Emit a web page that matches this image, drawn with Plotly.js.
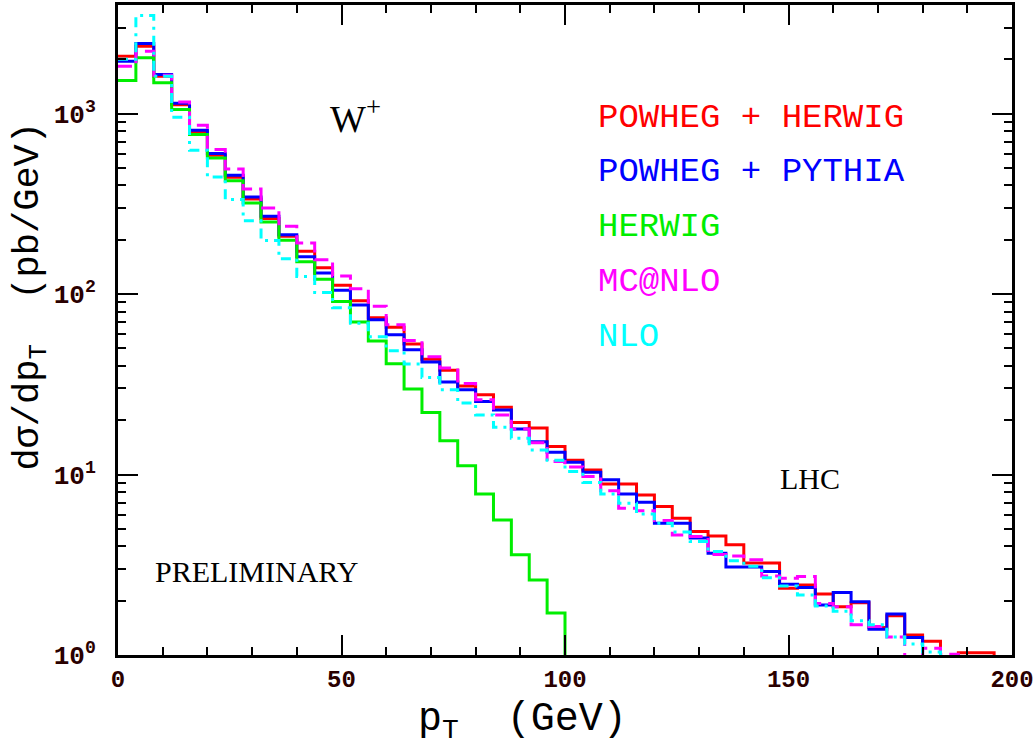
<!DOCTYPE html>
<html>
<head>
<meta charset="utf-8">
<script src="https://cdn.plot.ly/plotly-3.0.1.min.js"></script>
<style>html,body{margin:0;padding:0;background:#fff;}#chart{width:1035px;height:747px;}</style>
</head>
<body>
<div id="chart"></div>
<script>
// Bin width 4 GeV, bins start at 0 GeV
const binWidth = 4;
// dσ/dpT (pb/GeV) per bin
const powhegHerwig = [2080, 2365, 1612, 1120, 793, 588, 444, 337, 262, 209,
  173, 140, 112, 92, 74, 65.4, 52.9, 43.6, 37.8, 31,
  27.7, 23.6, 19.4, 18.1, 14.3, 12.0, 10.6, 8.85, 8.85, 7.7,
  6.65, 5.73, 4.83, 4.57, 4.08, 3.23, 3.23, 2.34, 2.44, 2.18,
  1.85, 1.95, 1.42, 1.65, 1.29, 1.19, 0.9, 1.03, 1.03, 0.5];
const powhegPythia = [1950, 2447, 1648, 1140, 809, 601, 455, 345, 270, 213,
  161, 131, 105, 87, 72, 59.6, 49.2, 42, 32.6, 29.5,
  25.4, 22.8, 17.9, 15.2, 13.3, 11.7, 10.3, 9.35, 7.8, 7.03,
  5.37, 5.37, 4.45, 3.66, 3.07, 3.07, 2.9, 2.47, 2.37, 1.89,
  2.22, 1.97, 1.39, 1.69, 1.25, 0.5];
const herwig = [1527, 2040, 1483, 1055, 766, 568, 425, 320, 251, 199,
  151, 121, 91, 70, 55, 41.1, 29.8, 22.1, 15.4, 11.2,
  7.8, 5.6, 3.59, 2.6, 1.71, 0.5];
const mcatnlo = [1830, 2218, 1630, 1162, 862, 632, 494, 382, 300, 238,
  192, 155, 126, 107, 85.5, 67.6, 55.4, 45, 38.9, 32,
  26, 21.4, 17.9, 15.0, 11.8, 11.0, 9.75, 8.12, 6.51, 6.3,
  5.56, 4.63, 4.53, 3.6, 3.54, 3.37, 2.74, 2.66, 2.72, 1.93,
  1.85, 1.47, 1.44, 1.26, 0.5, 1.09, 1.01, 0.5];
const nlo = [2000, 3500, 1610, 955, 627, 446, 334, 255, 198, 157,
  125, 102, 84, 69, 58, 48.5, 41, 34.5, 29.5, 24.9,
  21.4, 18.3, 15.9, 13.7, 12.0, 10.4, 9.03, 7.8, 6.94, 6.05,
  5.37, 4.8, 4.25, 3.74, 3.33, 3.1, 2.68, 2.41, 2.15, 1.87,
  1.75, 1.55, 1.47, 1.26, 1.15, 1.04, 0.5];

const seriesNames = ['POWHEG + HERWIG', 'POWHEG + PYTHIA', 'HERWIG', 'MC@NLO', 'NLO'];
const seriesColors = ['#ff0000', '#0000ff', '#00ee00', '#ff00ff', '#00ffff'];
const yTickVals = [1, 10, 100, 1000];
const yTickText = ['10<sup>0</sup>', '10<sup>1</sup>', '10<sup>2</sup>', '10<sup>3</sup>'];
const xTickVals = [0, 50, 100, 150, 200];

function stepTrace(vals, name, color, dash) {
  const x = [], y = [];
  for (let i = 0; i < vals.length; i++) { x.push(i * binWidth); y.push(vals[i]); }
  x.push(vals.length * binWidth); y.push(vals[vals.length - 1]);
  return {x: x, y: y, name: name, type: 'scatter', mode: 'lines',
    line: {shape: 'hv', color: color, width: 3, dash: dash}, showlegend: false, hoverinfo: 'skip'};
}

const data = [
  stepTrace(powhegHerwig, seriesNames[0], seriesColors[0], 'solid'),
  stepTrace(powhegPythia, seriesNames[1], seriesColors[1], 'solid'),
  stepTrace(herwig, seriesNames[2], seriesColors[2], 'solid'),
  stepTrace(mcatnlo, seriesNames[3], seriesColors[3], '14px,7px'),
  stepTrace(nlo, seriesNames[4], seriesColors[4], '10px,6px,3px,6px')
];

const minorLog = [];
for (let d = 0; d < 4; d++) for (let k = 2; k <= 9; k++) minorLog.push(k * Math.pow(10, d));

const mono = '"Liberation Mono", "DejaVu Sans Mono", monospace';
const serif = '"Liberation Serif", "DejaVu Serif", serif';
const tickCol = '#2a0000';

const legendY = [0.826, 0.743, 0.658, 0.574, 0.489];
const annotations = seriesNames.map((n, i) => ({
  text: n, xref: 'paper', yref: 'paper', x: 0.535, y: legendY[i], xanchor: 'left', yanchor: 'middle',
  showarrow: false, font: {family: mono, size: 34, color: seriesColors[i]}
}));
annotations.push(
  {text: 'W<sup>+</sup>', xref: 'paper', yref: 'paper', x: 0.235, y: 0.83, xanchor: 'left', yanchor: 'middle', showarrow: false, font: {family: serif, size: 38, color: '#000'}},
  {text: 'LHC', xref: 'paper', yref: 'paper', x: 0.738, y: 0.272, xanchor: 'left', yanchor: 'middle', showarrow: false, font: {family: serif, size: 30, color: '#000'}},
  {text: 'PRELIMINARY', xref: 'paper', yref: 'paper', x: 0.039, y: 0.128, xanchor: 'left', yanchor: 'middle', showarrow: false, font: {family: serif, size: 30, color: '#000'}},
  {text: 'p<sub>T</sub>  (GeV)', xref: 'paper', yref: 'paper', x: 0.452, y: -0.103, xanchor: 'center', yanchor: 'middle', showarrow: false, font: {family: mono, size: 40, color: '#000'}},
  {text: 'dσ/dp<sub>T</sub>  (pb/GeV)', xref: 'paper', yref: 'paper', x: -0.098, y: 0.552, xanchor: 'center', yanchor: 'middle', textangle: -90, showarrow: false, font: {family: mono, size: 37, color: '#000'}}
);

const layout = {
  width: 1035, height: 747,
  margin: {l: 118, r: 23, t: 5, b: 92},
  paper_bgcolor: '#fff', plot_bgcolor: '#fff',
  showlegend: false,
  xaxis: {
    range: [0, 200], showgrid: false, zeroline: false,
    showline: true, linecolor: '#000', linewidth: 3, mirror: 'allticks',
    ticks: 'inside', ticklen: 20, tickwidth: 2, tickcolor: '#000',
    tickmode: 'array', tickvals: xTickVals,
    tickfont: {family: mono, size: 24, color: tickCol, weight: 'bold'},
    ticklabelstandoff: 0,
    minor: {dtick: 10, ticklen: 8, tickwidth: 2, tickcolor: '#000', ticks: 'inside', showgrid: false}
  },
  yaxis: {
    type: 'log', range: [0, Math.log10(4000)], showgrid: false, zeroline: false,
    showline: true, linecolor: '#000', linewidth: 3, mirror: 'allticks',
    ticks: 'inside', ticklen: 20, tickwidth: 2, tickcolor: '#000',
    tickmode: 'array', tickvals: yTickVals, ticktext: yTickText,
    tickfont: {family: mono, size: 26, color: tickCol, weight: 'bold'},
    ticklabelstandoff: 14,
    minor: {tickmode: 'array', tickvals: minorLog, ticklen: 8, tickwidth: 2, tickcolor: '#000', ticks: 'inside', showgrid: false}
  },
  annotations: annotations
};

Plotly.newPlot('chart', data, layout, {staticPlot: true, displayModeBar: false});
</script>
</body>
</html>
